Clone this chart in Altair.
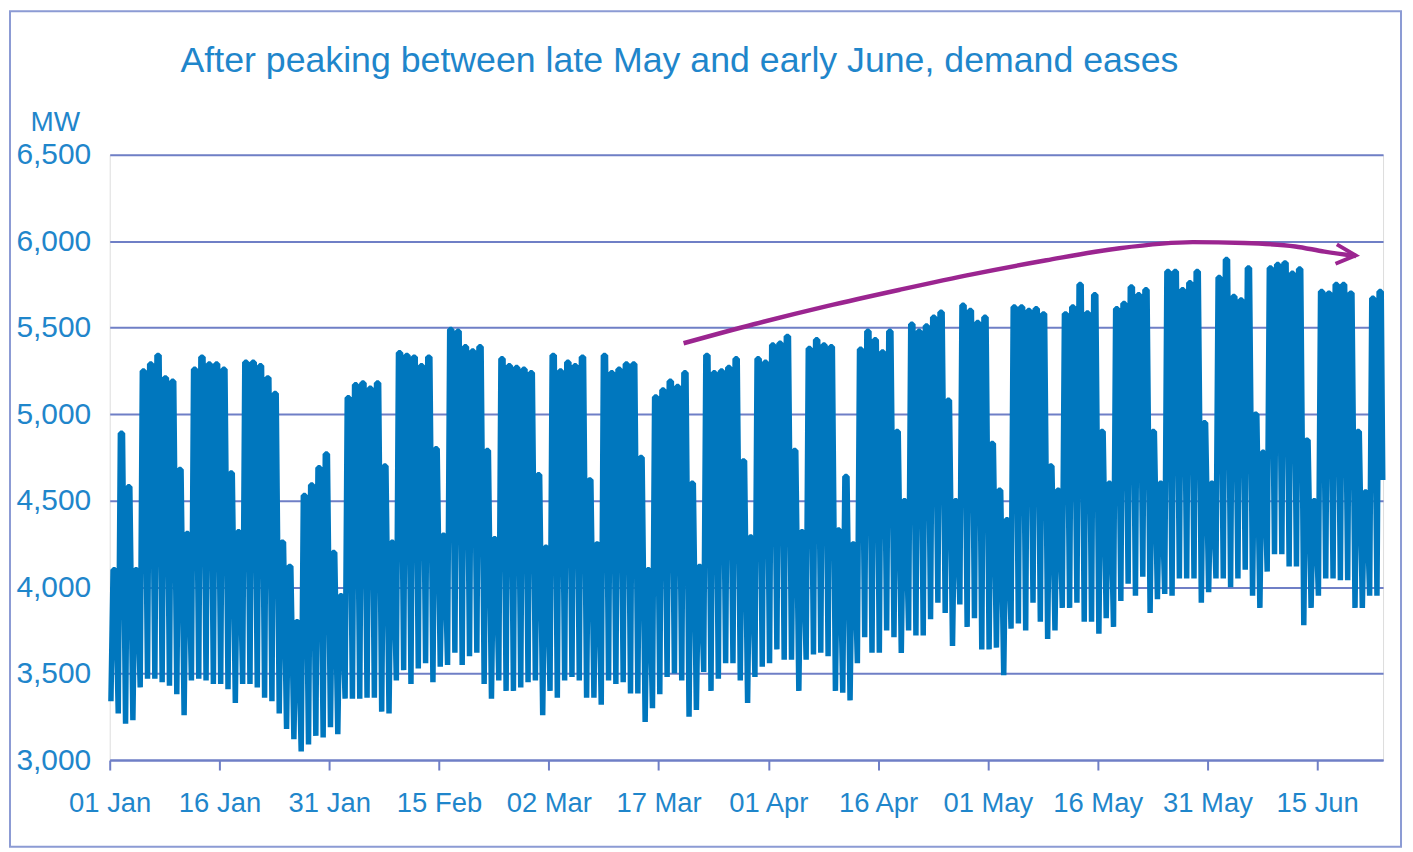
import altair as alt
import pandas as pd

title_text = "After peaking between late May and early June, demand eases"
y_unit = "MW"
start_date = "2015-01-01"

# daily peak (MW), one per day from 01 Jan
daily_max = [
    4100, 4890, 4580, 4100, 5250, 5290, 5340, 5210, 5190, 4680,
    4310, 5260, 5330, 5290, 5290, 5260, 4660, 4320, 5300, 5300,
    5280, 5210, 5120, 4260, 4120, 3800, 4530, 4590, 4690, 4770,
    4200, 3950, 5095, 5170, 5180, 5150, 5180, 4700, 4260, 5355,
    5340, 5330, 5280, 5330, 4800, 4300, 5490, 5480, 5390, 5365,
    5390, 4790, 4280, 5320, 5280, 5270, 5260, 5240, 4650, 4230,
    5340, 5250, 5300, 5280, 5330, 4620, 4250, 5340, 5240, 5260,
    5290, 5290, 4750, 4100, 5100, 5140, 5190, 5160, 5240, 4600,
    4120, 5340, 5240, 5250, 5270, 5320, 4730, 4290, 5320, 5300,
    5400, 5410, 5450, 4790, 4320, 5380, 5430, 5400, 5390, 4330,
    4640, 4250, 5375, 5480, 5430, 5360, 5480, 4900, 4500, 5520,
    5480, 5510, 5560, 5590, 5080, 4500, 5630, 5600, 5530, 5560,
    4830, 4560, 4390, 5620, 5620, 5600, 5610, 5580, 4700, 4560,
    5580, 5620, 5750, 5585, 5690, 4900, 4600, 5610, 5640, 5735,
    5690, 5720, 4900, 4600, 5825, 5825, 5720, 5760, 5825, 4950,
    4600, 5790, 5895, 5680, 5660, 5845, 5000, 4780, 5845, 5865,
    5875, 5815, 5840, 4850, 4500, 5710, 5700, 5750, 5750, 5700,
    4900, 4550, 5670, 5710,
]

# daily overnight low (MW), one per day from 01 Jan
daily_min = [
    3340, 3270, 3210, 3230, 3420, 3470, 3470, 3450, 3430, 3380,
    3260, 3460, 3470, 3460, 3440, 3440, 3410, 3330, 3440, 3440,
    3420, 3360, 3340, 3270, 3180, 3120, 3050, 3090, 3140, 3130,
    3190, 3150, 3355, 3355, 3355, 3360, 3360, 3280, 3270, 3460,
    3520, 3440, 3530, 3560, 3450, 3540, 3550, 3620, 3550, 3600,
    3620, 3440, 3355, 3460, 3400, 3400, 3420, 3450, 3460, 3260,
    3400, 3360, 3460, 3480, 3460, 3360, 3360, 3320, 3460, 3440,
    3450, 3385, 3385, 3220, 3300, 3380, 3480, 3500, 3460, 3250,
    3290, 3510, 3400, 3470, 3560, 3560, 3460, 3330, 3480, 3540,
    3560, 3640, 3580, 3580, 3400, 3580, 3610, 3620, 3600, 3400,
    3390, 3345, 3560, 3710, 3620, 3620, 3750, 3710, 3620, 3750,
    3720, 3720, 3815, 3910, 3850, 3660, 3900, 3770, 3820, 3640,
    3640, 3650, 3490, 3760, 3790, 3750, 3910, 3800, 3700, 3750,
    3880, 3880, 3910, 3800, 3800, 3730, 3820, 3770, 3920, 4020,
    3950, 4060, 3850, 3930, 3960, 3950, 4050, 4050, 4050, 3910,
    3970, 4050, 4050, 4000, 4050, 4100, 3950, 3880, 4090, 4190,
    4190, 4120, 4120, 3780, 3880, 3950, 4050, 4050, 4040, 4040,
    3880, 3880, 3950, 3950,
]
# hour of the overnight low, and the daytime hours over which the peak holds
low_hour = 4
peak_start_hour = 11
peak_end_hour = 18
last_time = "2015-06-23T23:00:00"
last_value = 4620

tick_dates = ["2015-01-01", "2015-01-16", "2015-01-31", "2015-02-15",
              "2015-03-02", "2015-03-17", "2015-04-01", "2015-04-16",
              "2015-05-01", "2015-05-16", "2015-05-31", "2015-06-15"]
y_ticks = [3000, 3500, 4000, 4500, 5000, 5500, 6000, 6500]
x_start = "2015-01-01T00:00:00"
x_end = "2015-06-24T00:00:00"

trend_dates = ["2015-03-20T10:00:00", "2015-03-30T00:00:00", "2015-04-09T00:00:00",
               "2015-04-19T00:00:00", "2015-04-29T00:00:00", "2015-05-09T00:00:00",
               "2015-05-19T00:00:00", "2015-05-29T00:00:00", "2015-06-05T00:00:00",
               "2015-06-12T00:00:00", "2015-06-16T00:00:00", "2015-06-20T07:00:00"]
trend_values = [5410, 5520, 5625, 5720, 5810, 5890, 5960, 5995, 5990, 5970, 5940, 5915]
arrow_date = "2015-06-18T22:00:00"
arrow_value = 5922

assert len(daily_max) == len(daily_min)

BLUE = "#0077BE"
TEXT = "#1F86CB"
GRID = "#6F7FC6"
PURPLE = "#9B2590"
FONT = "Liberation Sans"

base_day = pd.Timestamp(start_date)
rows = []
for i, (lo, hi) in enumerate(zip(daily_min, daily_max)):
    day = base_day + pd.Timedelta(days=i)
    rows.append({"t": (day + pd.Timedelta(hours=low_hour)).isoformat(), "mw": lo})
    rows.append({"t": (day + pd.Timedelta(hours=peak_start_hour)).isoformat(), "mw": hi})
    rows.append({"t": (day + pd.Timedelta(hours=peak_end_hour)).isoformat(), "mw": hi})
rows.append({"t": pd.Timestamp(last_time).isoformat(), "mw": last_value})
df = pd.DataFrame(rows)

trend_df = pd.DataFrame({"t": trend_dates, "mw": trend_values})
arrow_df = pd.DataFrame({"t": [arrow_date], "mw": [arrow_value]})
title_df = pd.DataFrame({"label": [title_text]})


def dt(s):
    ts = pd.Timestamp(s)
    return alt.DateTime(year=ts.year, month=ts.month, date=ts.day,
                        hours=ts.hour, minutes=ts.minute)


x_scale = alt.Scale(domain=[dt(x_start), dt(x_end)], nice=False)
y_scale = alt.Scale(domain=[3000, 6500], nice=False, zero=False)

x_enc = alt.X(
    "t:T", scale=x_scale, title=None,
    axis=alt.Axis(values=[dt(d) for d in tick_dates], format="%d %b",
                  grid=False, domainColor=GRID, domainWidth=2,
                  tickColor=GRID, tickWidth=2, tickSize=10,
                  labelPadding=20, labelFontSize=27.5, labelColor=TEXT,
                  labelFont=FONT, labelAlign="center", labelOverlap=False,
                  labelFlush=False))
y_enc = alt.Y(
    "mw:Q", scale=y_scale,
    axis=alt.Axis(values=y_ticks, format=",.0f", grid=True, gridColor=GRID,
                  gridWidth=2, domain=False, ticks=False, labelPadding=19,
                  labelFontSize=30, labelColor=TEXT, labelFont=FONT,
                  title=y_unit, titleAngle=0, titleX=-55, titleY=-32,
                  titleAlign="center", titleBaseline="middle",
                  titleFontSize=28, titleFontWeight="normal",
                  titleColor=TEXT, titleFont=FONT))

demand = alt.Chart(df).mark_line(color=BLUE, strokeWidth=5.5,
                                 strokeJoin="bevel").encode(x=x_enc, y=y_enc)

trend = alt.Chart(trend_df).mark_line(
    color=PURPLE, strokeWidth=4.5, interpolate="monotone"
).encode(x="t:T", y="mw:Q")

arrow = alt.Chart(arrow_df).mark_point(
    shape="M-1,-1L1,0L-1,1", filled=False, stroke=PURPLE, strokeWidth=4,
    size=380, angle=4, opacity=1
).encode(x="t:T", y="mw:Q")

title_mark = alt.Chart(title_df).mark_text(
    align="left", baseline="middle", fontSize=35.8, color=TEXT, font=FONT
).encode(x=alt.value(71), y=alt.value(-94), text="label:N")

border = alt.Chart(arrow_df).mark_rect(
    fill=None, stroke="#8C9BD4", strokeWidth=2
).encode(x=alt.value(-100), x2=alt.value(1295),
         y=alt.value(-144), y2=alt.value(694))

chart = alt.layer(demand, trend, arrow, title_mark, border).properties(
    width=1277, height=607,
    autosize=alt.AutoSizeParams(type="none"),
    padding={"left": 102, "top": 146, "right": 22, "bottom": 92},
).configure_view(stroke=None).configure(background="white")

chart.save("out.html", embed_options={"renderer": "svg", "actions": False})
